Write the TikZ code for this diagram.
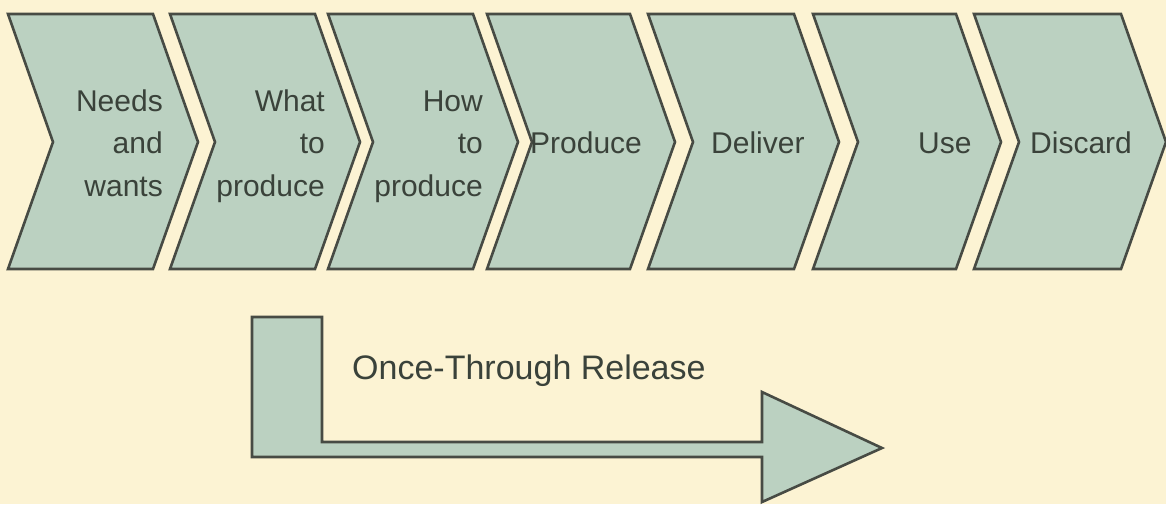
\documentclass[tikz,border=0pt]{standalone}
\usepackage{fontspec}
\setmainfont{Liberation Sans}
\definecolor{paper}{HTML}{FCF3D3}
\definecolor{sage}{HTML}{BBD1C1}
\definecolor{edge}{HTML}{474B44}
\definecolor{ink}{HTML}{3A423A}
\tikzset{
  chev/.style={fill=sage, draw=edge, line width=2.6pt, line join=miter},
  lbl/.style={inner sep=0pt, text=ink, font=\fontsize{30}{42}\selectfont},
  biglbl/.style={inner sep=0pt, text=ink, font=\fontsize{34}{40}\selectfont},
  bent/.style={fill=sage, draw=edge, line width=2.6pt, line join=miter}
}
\begin{document}
\begin{tikzpicture}[x=1pt, y=-1pt]
  % canvas
  \fill[paper] (0,0) rectangle (1166,504);
  \useasboundingbox (0,0) rectangle (1166,504);

  % process chevrons (left edge / right edge of the top side)
  \foreach \l/\r in {8/153, 170/315, 328/473, 487/630, 648/794, 813/956, 974/1121}
    \draw[chev] (\l,14) -- (\r,14) -- (\r+45,142) -- (\r,269) -- (\l,269) -- (\l+45,142) -- cycle;

  % stage labels
  \node[lbl, anchor=base east] (needs1) at (163,111) {Needs};
  \node[lbl, anchor=base east] (needs2) at (163,153) {and};
  \node[lbl, anchor=base east] (needs3) at (163,196) {wants};

  \node[lbl, anchor=base east] (what1) at (325,111) {What};
  \node[lbl, anchor=base east] (what2) at (325,153) {to};
  \node[lbl, anchor=base east] (what3) at (325,196) {produce};

  \node[lbl, anchor=base east] (how1) at (483,111) {How};
  \node[lbl, anchor=base east] (how2) at (483,153) {to};
  \node[lbl, anchor=base east] (how3) at (483,196) {produce};

  \node[lbl, anchor=base west] (produce) at (530,153) {Produce};
  \node[lbl, anchor=base west] (deliver) at (711,153) {Deliver};
  \node[lbl, anchor=base west] (use)     at (918,153) {Use};
  \node[lbl, anchor=base west] (discard) at (1030,153) {Discard};

  % bent release arrow
  \draw[bent] (252,317) -- (322,317) -- (322,442) -- (762,442) -- (762,392)
    -- (882,448) -- (762,502) -- (762,457) -- (252,457) -- cycle;
  \node[biglbl, anchor=base west] (release) at (352,379) {Once-Through Release};
\end{tikzpicture}
\end{document}
